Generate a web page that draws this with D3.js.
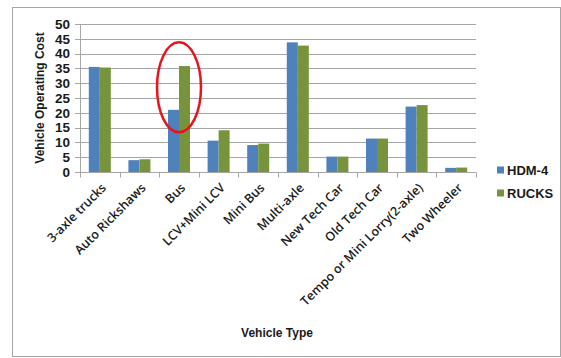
<!DOCTYPE html>
<style>
  html, body { margin:0; background:#fff; }
  svg { display:block; }
  text { font-family: "Liberation Sans", Arial, sans-serif; fill:#1a1a1a; }
  .cat { font-family: "Open Sans", sans-serif; font-weight: 600; }
</style>
<svg width="561" height="358"></svg>
<script src="https://d3js.org/d3.v7.min.js"></script>
<script>

var categories = ["3-axle trucks", "Auto Rickshaws", "Bus", "LCV+Mini LCV", "Mini Bus",
                  "Multi-axle", "New Tech Car", "Old Tech Car", "Tempo or Mini Lorry(2-axle)", "Two Wheeler"];
var seriesNames = ["HDM-4", "RUCKS"];
var hdm4  = [35.5, 4.0, 21.0, 10.6, 9.1, 43.8, 5.2, 11.3, 22.1, 1.4];
var rucks = [35.3, 4.3, 35.8, 14.1, 9.6, 42.7, 5.2, 11.3, 22.6, 1.5];
var yTicks = [0, 5, 10, 15, 20, 25, 30, 35, 40, 45, 50];
var colors = ["#4f81bd", "#77933c"];

var svg = d3.select("svg");

// outer frame
svg.append("rect")
    .attr("x", 12.5).attr("y", 7.5)
    .attr("width", 548).attr("height", 349)
    .attr("fill", "none")
    .attr("stroke", "#a6a6a6");

var plotLeft = 80, plotRight = 476, plotTop = 24, plotBottom = 172;

var x = d3.scaleBand().domain(categories).range([plotLeft, plotRight]);
var xs = d3.scaleBand().domain(seriesNames).range([0, x.bandwidth()]).paddingOuter(0.8).paddingInner(0);
var y = d3.scaleLinear().domain([0, 50]).range([plotBottom, plotTop]);

// gridlines
svg.append("g").selectAll("line")
  .data(yTicks)
  .enter().append("line")
    .attr("x1", plotLeft - 5).attr("x2", plotRight)
    .attr("y1", function(d) { return Math.round(y(d)) + 0.5; })
    .attr("y2", function(d) { return Math.round(y(d)) + 0.5; })
    .attr("stroke", "#a6a6a6");

// y axis line
svg.append("line")
    .attr("x1", plotLeft + 0.5).attr("x2", plotLeft + 0.5)
    .attr("y1", plotTop).attr("y2", plotBottom)
    .attr("stroke", "#a6a6a6");

// y tick labels
svg.append("g").selectAll("text")
  .data(yTicks)
  .enter().append("text")
    .attr("x", 70)
    .attr("y", function(d) { return y(d); })
    .attr("dy", "0.36em")
    .attr("text-anchor", "end")
    .style("font-size", "13.5px")
    .style("font-weight", "bold")
    .text(function(d) { return d; });

// bars
var data = [hdm4, rucks];
svg.append("g").selectAll("g")
  .data(categories)
  .enter().append("g")
    .attr("transform", function(d) { return "translate(" + x(d) + ",0)"; })
  .selectAll("rect")
  .data(function(d, i) { return seriesNames.map(function(s, j) { return { s: s, v: data[j][i], c: colors[j] }; }); })
  .enter().append("rect")
    .attr("x", function(d) { return xs(d.s); })
    .attr("width", xs.bandwidth())
    .attr("y", function(d) { return y(d.v); })
    .attr("height", function(d) { return plotBottom - y(d.v); })
    .attr("fill", function(d) { return d.c; });

// x axis
var xAxis = svg.append("g")
    .attr("transform", "translate(0," + (plotBottom + 0.5) + ")");
xAxis.append("line")
    .attr("x1", plotLeft).attr("x2", plotRight)
    .attr("stroke", "#a6a6a6");
xAxis.selectAll("line.tick")
  .data(d3.range(categories.length + 1))
  .enter().append("line")
    .attr("class", "tick")
    .attr("x1", function(i) { return Math.round(plotLeft + i * x.step()) + 0.5; })
    .attr("x2", function(i) { return Math.round(plotLeft + i * x.step()) + 0.5; })
    .attr("y1", 0).attr("y2", 5)
    .attr("stroke", "#a6a6a6");
xAxis.selectAll("text")
  .data(categories)
  .enter().append("text")
    .attr("class", "cat")
    .attr("transform", function(d) {
      return "translate(" + (x(d) + x.bandwidth() / 2 + 4) + ",13) rotate(-45)";
    })
    .attr("text-anchor", "end")
    .attr("dy", "0.35em")
    .style("font-size", "12.5px")
    .text(function(d) { return d; });

// axis titles
svg.append("text")
    .attr("transform", "translate(44,98) rotate(-90)")
    .attr("text-anchor", "middle")
    .style("font-size", "12px")
    .style("font-weight", "bold")
    .text("Vehicle Operating Cost");

svg.append("text")
    .attr("x", 277).attr("y", 337)
    .attr("text-anchor", "middle")
    .style("font-size", "12px")
    .style("font-weight", "bold")
    .text("Vehicle Type");

// legend
var legend = svg.append("g").selectAll("g")
  .data(seriesNames)
  .enter().append("g")
    .attr("transform", function(d, i) { return "translate(497," + (170 + i * 23) + ")"; });
legend.append("rect")
    .attr("x", 0).attr("y", -3.5)
    .attr("width", 7).attr("height", 7)
    .attr("fill", function(d, i) { return colors[i]; });
legend.append("text")
    .attr("x", 10).attr("dy", "0.36em")
    .style("font-size", "13px")
    .style("font-weight", "bold")
    .text(function(d) { return d; });

// highlight ellipse around Bus
svg.append("ellipse")
    .attr("cx", x("Bus") + x.bandwidth() / 2)
    .attr("cy", y(28.6))
    .attr("rx", 22).attr("ry", 45)
    .attr("fill", "none")
    .attr("stroke", "#e8141c")
    .attr("stroke-width", 2.5);

</script>
